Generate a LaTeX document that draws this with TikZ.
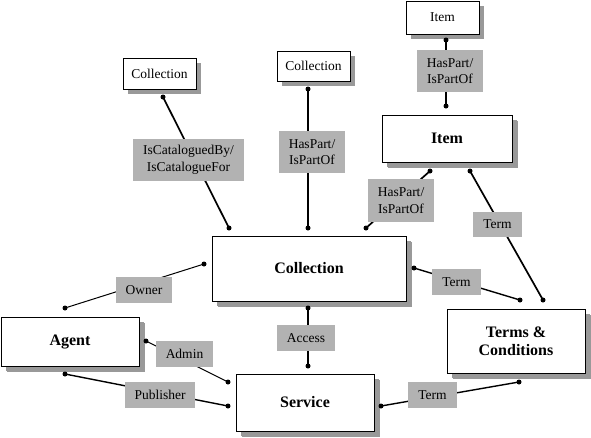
\documentclass[tikz,border=0pt]{standalone}
\usepackage{fontspec}
\setmainfont{Liberation Serif}
\usetikzlibrary{shadows}
\definecolor{lblgray}{RGB}{178,178,178}
\definecolor{shgray}{RGB}{153,153,153}
\tikzset{
  box/.style={draw=black, line width=1pt, fill=white, inner sep=0pt, align=center,
    drop shadow={shadow xshift=5pt, shadow yshift=-5pt, fill=shgray, opacity=1}},
  bigbox/.style={box, font=\fontsize{16}{18.5}\selectfont\bfseries,
    drop shadow={shadow xshift=6pt, shadow yshift=-6pt, fill=shgray, opacity=1}},
  smallbox/.style={box, font=\fontsize{13.5}{15}\selectfont},
  lbl/.style={fill=lblgray, inner sep=0pt, align=center, font=\fontsize{13.5}{16.5}\selectfont},
  thick link/.style={line width=1.7pt},
  thin link/.style={line width=1pt},
  endpt/.style={circle, fill=black, inner sep=0pt, minimum size=5pt},
}
\begin{document}
\begin{tikzpicture}[x=1pt, y=-1pt]
\useasboundingbox (0,0) rectangle (591,437);
% boxes
\node[smallbox, minimum width=73pt, minimum height=31pt] (collL) at (159.5,73.5) {Collection};
\node[smallbox, minimum width=73pt, minimum height=30pt] (collM) at (313.5,66) {Collection};
\node[smallbox, minimum width=73pt, minimum height=33pt] (itemT) at (442.5,17.5) {Item};
\node[bigbox, minimum width=130pt, minimum height=47pt] (item) at (447,138.5) {Item};
\node[bigbox, minimum width=194pt, minimum height=65pt] (coll) at (309,268.5) {Collection};
\node[bigbox, minimum width=138pt, minimum height=49pt] (agent) at (70,341.5) {Agent};
\node[bigbox, minimum width=138pt, minimum height=57pt] (service) at (305,402.5) {Service};
\node[bigbox, minimum width=138pt, minimum height=64pt] (terms) at (516,341) {Terms \&\\Conditions};
% connector end points
\coordinate (a1) at (163,97);   \coordinate (b1) at (229,228);
\coordinate (a2) at (308,89);   \coordinate (b2) at (308,228);
\coordinate (a3) at (446,40);   \coordinate (b3) at (446,106);
\coordinate (a4) at (430,171);  \coordinate (b4) at (366,228);
\coordinate (a5) at (470,171);  \coordinate (b5) at (543,300);
\coordinate (a6) at (414,268);  \coordinate (b6) at (520,300);
\coordinate (a7) at (308,308);  \coordinate (b7) at (308,366);
\coordinate (a8) at (381,406);  \coordinate (b8) at (519,382);
\coordinate (a9) at (65,308);   \coordinate (b9) at (204,264);
\coordinate (a10) at (146,341); \coordinate (b10) at (228,382);
\coordinate (a11) at (65,374);  \coordinate (b11) at (228,406);
% connectors
\draw[thick link] (a1) -- (b1);
\draw[thick link] (a2) -- (b2);
\draw[thick link] (a3) -- (b3);
\draw[thick link] (a4) -- (b4);
\draw[thick link] (a5) -- (b5);
\draw[line width=1.4pt] (a6) -- (b6);
\draw[thick link] (a7) -- (b7);
\draw[line width=1.4pt] (a8) -- (b8);
\draw[thin link] (a9) -- (b9);
\draw[thin link] (a10) -- (b10);
\draw[line width=1.4pt] (a11) -- (b11);
\foreach \p in {a1,b1,a2,b2,a3,b3,a4,b4,a5,b5,a6,b6,a7,b7,a8,b8,a9,b9,a10,b10,a11,b11}
  \node[endpt] at (\p) {};
% labels
\node[lbl, minimum width=111pt, minimum height=42pt] (lCat) at (188.5,160) {IsCataloguedBy/\\IsCatalogueFor};
\node[lbl, minimum width=66pt, minimum height=42pt] (lHM) at (312,152) {HasPart/\\IsPartOf};
\node[lbl, minimum width=66pt, minimum height=42pt] (lHT) at (450,71) {HasPart/\\IsPartOf};
\node[lbl, minimum width=66pt, minimum height=43pt] (lHI) at (401,200.5) {HasPart/\\IsPartOf};
\node[lbl, minimum width=49pt, minimum height=25pt] (lT1) at (497.5,224.5) {Term};
\node[lbl, minimum width=49pt, minimum height=26pt] (lT2) at (456.5,282) {Term};
\node[lbl, minimum width=58pt, minimum height=26pt] (lAcc) at (306,338) {Access};
\node[lbl, minimum width=49pt, minimum height=26pt] (lT3) at (432.5,395) {Term};
\node[lbl, minimum width=56pt, minimum height=26pt] (lOwn) at (144,290) {Owner};
\node[lbl, minimum width=57pt, minimum height=26pt] (lAdm) at (184.5,354) {Admin};
\node[lbl, minimum width=70pt, minimum height=26pt] (lPub) at (160,395) {Publisher};
\end{tikzpicture}
\end{document}
